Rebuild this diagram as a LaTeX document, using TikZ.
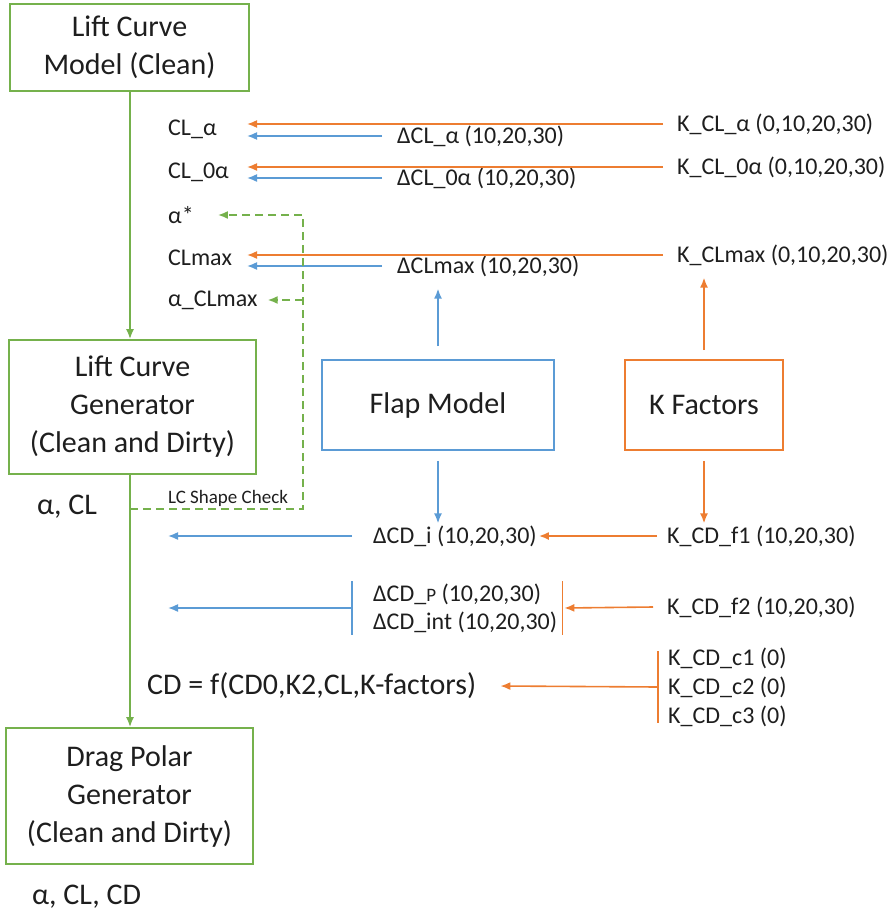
\documentclass[tikz,border=0pt]{standalone}
\usepackage{fontspec}
\setmainfont{Carlito}
\usetikzlibrary{arrows.meta,positioning}
\definecolor{lgreen}{RGB}{117,177,76}
\definecolor{lblue}{RGB}{91,155,213}
\definecolor{lorange}{RGB}{237,125,49}
\definecolor{txt}{RGB}{30,30,30}
\tikzset{
  bigtxt/.style={font=\fontsize{30}{38}\selectfont},
  lbl/.style={font=\fontsize{24}{28}\selectfont,anchor=west,inner sep=2pt},
  note/.style={font=\fontsize{19}{22}\selectfont,inner sep=1pt},
  mbox/.style={draw,line width=1.8pt,bigtxt,align=center},
  garr/.style={lgreen,line width=1.6pt,-{Latex[length=10pt,width=8pt]}},
  barr/.style={lblue,line width=1.6pt,-{Latex[length=10pt,width=8pt]}},
  oarr/.style={lorange,line width=1.6pt,-{Latex[length=10pt,width=8pt]}},
  gdash/.style={garr,dash pattern=on 8pt off 5pt},
  bbar/.style={lblue,line width=1.6pt},
  obar/.style={lorange,line width=1.6pt},
}
\begin{document}
\begin{tikzpicture}[x=1pt,y=-1pt,every node/.style={text=txt}]
\useasboundingbox (0,0) rectangle (895,911);
% model boxes
\node[mbox,draw=lgreen,minimum width=239,minimum height=87] (mdl) at (129.5,47.5) {Lift Curve\\Model (Clean)};
\node[mbox,draw=lgreen,minimum width=247,minimum height=134] (gen) at (132.5,407) {Lift Curve\\Generator\\(Clean and Dirty)};
\node[mbox,draw=lgreen,minimum width=247,minimum height=136] (drag) at (129.5,796) {Drag Polar\\Generator\\(Clean and Dirty)};
\node[mbox,draw=lblue,minimum width=232,minimum height=90] (flap) at (438,405) {Flap Model};
\node[mbox,draw=lorange,minimum width=158,minimum height=90] (kfac) at (704,405) {K Factors};
% reference x positions
\coordinate (lx) at (130,0);
\coordinate (tipx) at (247,0);
\coordinate (lftx) at (168,0);
\coordinate (chk) at (303,509);
% lift curve parameters
\node[lbl] (cla) at (166,129) {CL\_α};
\node[lbl] (clo) at (166,172) {CL\_0α};
\node[lbl] (ast) at (166,215) {α*};
\node[lbl] (clm) at (166,258) {CLmax};
\node[lbl] (acm) at (166,300) {α\_CLmax};
\node[lbl] (dcla) at (395,136) {ΔCL\_α (10,20,30)};
\node[lbl] (dclo) at (395,178) {ΔCL\_0α (10,20,30)};
\node[lbl] (dclm) at (395,266) {ΔCLmax (10,20,30)};
\node[lbl] (kcla) at (675,124) {K\_CL\_α (0,10,20,30)};
\node[lbl] (kclo) at (675,167) {K\_CL\_0α (0,10,20,30)};
\node[lbl] (kclm) at (675,255) {K\_CLmax (0,10,20,30)};
\foreach \n in {cla,clo,clm}{
  \draw[oarr] ([xshift=-12pt]k\n.west) -- (tipx |- k\n.west);
  \draw[barr] ([xshift=-13pt]d\n.west) -- (tipx |- d\n.west);
}
\draw[barr] ([yshift=13pt]flap.north) -- ([yshift=-10pt]dclm.south -| flap.north);
\draw[oarr] ([yshift=9pt]kfac.north) -- ([yshift=-10pt]kclm.south -| kfac.north);
% main flow
\draw[garr] (mdl.south -| lx) -- (gen.north -| lx);
\draw[garr] (gen.south -| lx) -- (drag.north -| lx);
\node[bigtxt,anchor=west,inner sep=2pt] (out1) at (35,507) {α, CL};
\node[bigtxt,anchor=west,inner sep=2pt] (out2) at (30,897) {α, CL, CD};
% shape check loop
\draw[gdash] (lx |- chk) -- (chk) |- ([xshift=22pt]ast.east);
\draw[gdash] (chk |- acm) -- ([xshift=8pt]acm.east);
\node[note] (lcs) at (228,498) {LC Shape Check};
% drag increments
\node[lbl] (dcdi) at (371,536) {ΔCD\_i (10,20,30)};
\node[lbl] (kcdf1) at (665,536) {K\_CD\_f1 (10,20,30)};
\draw[barr] ([yshift=-10pt]flap.south) -- (dcdi.north -| flap.south);
\draw[oarr] ([yshift=-10pt]kfac.south) -- (kcdf1.north -| kfac.south);
\draw[oarr] ([xshift=-8pt]kcdf1.west) -- (dcdi.east);
\draw[barr] ([xshift=-19pt]dcdi.west) -- (lftx |- dcdi.west);
\node[lbl,align=left] (dcdp) at (371,608) {ΔCD\_{\fontsize{19}{19}\selectfont P} (10,20,30)\\ΔCD\_int (10,20,30)};
\draw[bbar] ([xshift=-19pt]dcdp.north west) -- ([xshift=-19pt]dcdp.south west);
\draw[barr] ([xshift=-19pt]dcdp.west) -- (lftx |- dcdp.west);
\draw[obar] ([xshift=3pt]dcdp.north east) -- ([xshift=3pt]dcdp.south east);
\node[lbl] (kcdf2) at (665,607) {K\_CD\_f2 (10,20,30)};
\draw[oarr] ([xshift=-12pt]kcdf2.west) -- ([xshift=5pt]dcdp.east);
% drag polar formula
\node[bigtxt,anchor=west,inner sep=2pt] (cdf) at (145,686) {CD = f(CD0,K2,CL,K-factors)};
\node[lbl,align=left,font=\fontsize{24}{29}\selectfont] (kcdc) at (666,687) {K\_CD\_c1 (0)\\K\_CD\_c2 (0)\\K\_CD\_c3 (0)};
\draw[obar] ([xshift=-8pt,yshift=-6pt]kcdc.north west) -- ([xshift=-8pt,yshift=6pt]kcdc.south west);
\draw[oarr] ([xshift=-8pt]kcdc.west) -- ([xshift=22pt]cdf.east);
\end{tikzpicture}
\end{document}
